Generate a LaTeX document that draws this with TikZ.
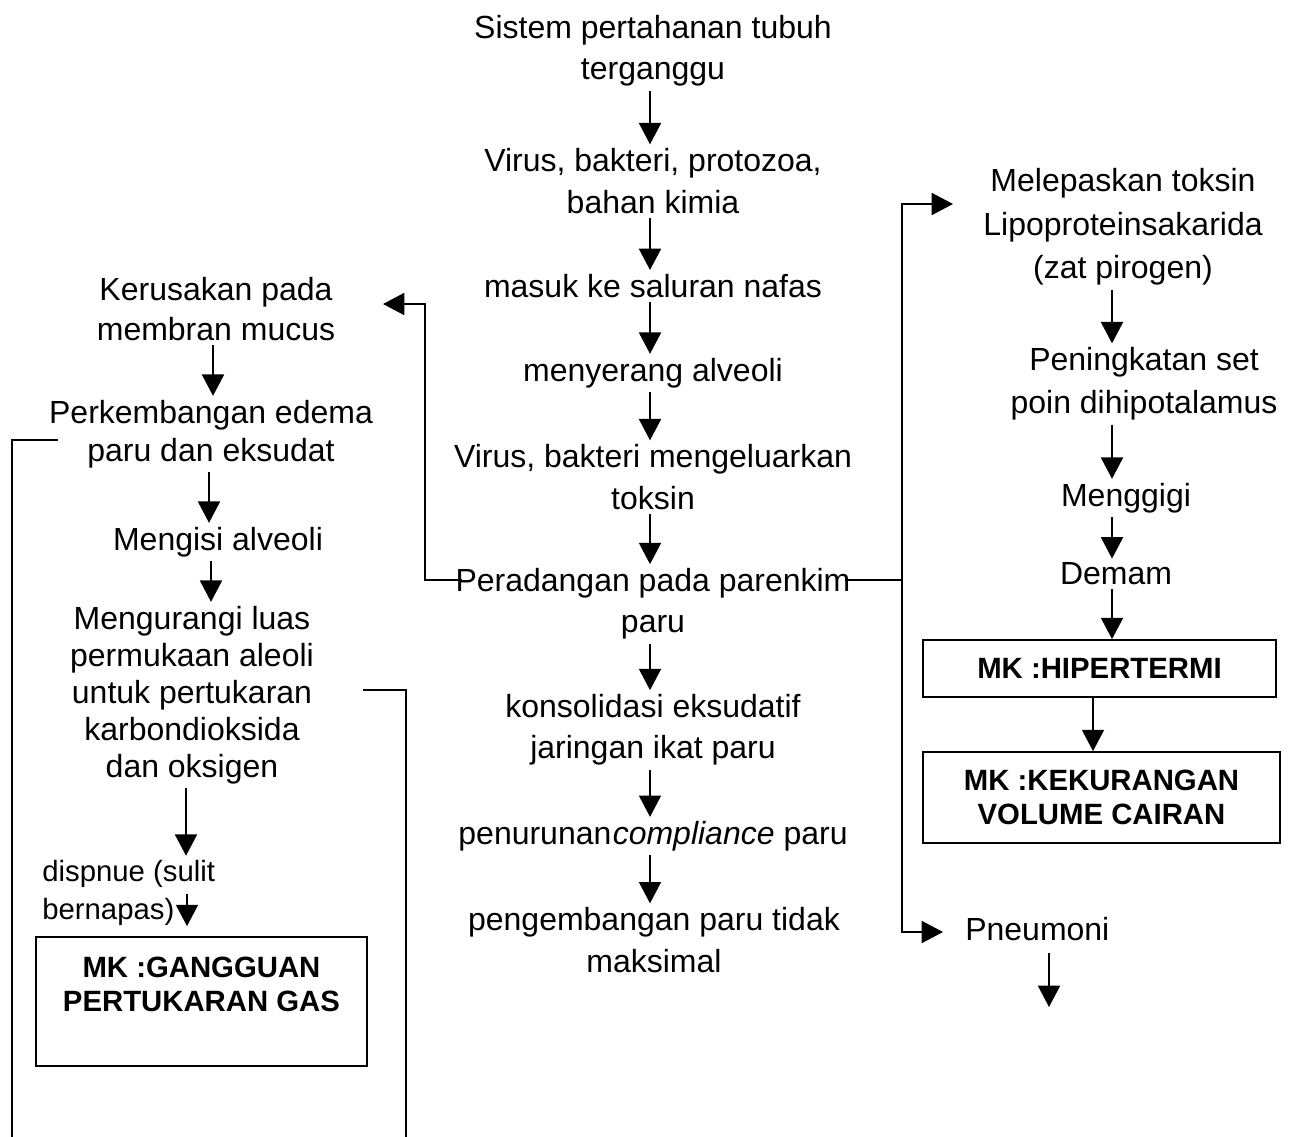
\documentclass[tikz,border=0pt]{standalone}
\usepackage{fontspec}
\setmainfont{Liberation Sans}
\usetikzlibrary{arrows.meta}
\begin{document}
\begin{tikzpicture}[x=0.75pt,y=-0.75pt,
  txt/.style={align=center,inner xsep=2pt,inner ysep=3pt,font=\fontsize{24}{31}\selectfont},
  mkbox/.style={draw,line width=1.3pt,align=center,inner sep=0pt,font=\fontsize{22}{26}\selectfont\bfseries},
  conn/.style={line width=1.4pt},
  arr/.style={conn,-{Triangle[length=16pt,width=16.5pt]}}]
\useasboundingbox (0,0) rectangle (1295,1136);

% axes for arrows
\coordinate (axC) at (650,0);
\coordinate (axL1) at (213,0);
\coordinate (axL2) at (209,0);
\coordinate (axL3) at (211,0);
\coordinate (axL4) at (186,0);
\coordinate (axR) at (1112,0);
\coordinate (axR2) at (1093,0);

% centre column
\node[txt] (c1) at (653,51) {Sistem pertahanan tubuh\\terganggu};
\node[txt] (c2) at (653,181) {Virus, bakteri, protozoa,\\bahan kimia};
\node[txt] (c3) at (653,286) {masuk ke saluran nafas};
\node[txt] (c4) at (653,373) {menyerang alveoli};
\node[txt] (c5) at (653,477) {Virus, bakteri mengeluarkan\\toksin};
\node[txt] (c6) at (653,604) {Peradangan pada parenkim\\paru};
\node[txt] (c7) at (653,730) {konsolidasi eksudatif\\jaringan ikat paru};
\node[txt] (c8) at (653,836) {penurunan\hspace{1pt}\textit{compliance} paru};
\node[txt] (c9) at (654,940) {pengembangan paru tidak\\maksimal};

% left column
\node[txt,font=\fontsize{24}{30}\selectfont] (l1) at (216,309) {Kerusakan pada\\membran mucus};
\node[txt,font=\fontsize{24}{28.5}\selectfont] (l2) at (211,434) {Perkembangan edema\\paru dan eksudat};
\node[txt] (l3) at (218,542) {Mengisi alveoli};
\node[txt,font=\fontsize{24}{27.75}\selectfont] (l4) at (192,695) {Mengurangi luas\\permukaan aleoli\\untuk pertukaran\\karbondioksida\\dan oksigen};
\node[txt,align=left,anchor=west,inner xsep=0pt,font=\fontsize{22}{29}\selectfont] (l5) at (42,893) {dispnue (sulit\\bernapas)};
\node[mkbox,minimum width=248.25pt,minimum height=96.75pt] (l6) at (201.5,1001.5) {MK :GANGGUAN\\PERTUKARAN GAS\\\mbox{}};

% right column
\node[txt,font=\fontsize{24}{32.5}\selectfont] (r1) at (1123,227) {Melepaskan toksin\\Lipoproteinsakarida\\(zat pirogen)};
\node[txt,font=\fontsize{24}{32.25}\selectfont] (r2) at (1144,384) {Peningkatan set\\poin dihipotalamus};
\node[txt] (r3) at (1126,498) {Menggigi};
\node[txt] (r4) at (1116,574) {Demam};
\node[mkbox,minimum width=264.75pt,minimum height=42.75pt] (r5) at (1099.5,668.5) {MK :HIPERTERMI};
\node[mkbox,minimum width=267.75pt,minimum height=68.25pt] (r6) at (1101.5,797.5) {MK :KEKURANGAN\\VOLUME CAIRAN};
\node[txt,anchor=west,inner xsep=0pt] (r7) at (965,929) {Pneumoni};

% free ends
\coordinate (pL) at (462,580);
\coordinate (tipL) at (383,304);
\coordinate (pR) at (845,580);
\coordinate (tipT) at (953,204);
\coordinate (tipB) at (943,932);
\coordinate (dsStart) at (187,894);
\coordinate (pnEnd) at (1049,1007);
\coordinate (pePerk) at (58,440);
\coordinate (peMeng) at (363,690);

% centre arrows
\foreach \a/\b in {c1/c2,c2/c3,c3/c4,c4/c5,c5/c6,c6/c7,c7/c8,c8/c9}
  \draw[arr] (\a.south -| axC) -- (\b.north -| axC);

% left arrows
\draw[arr] (l1.south -| axL1) -- (l2.north -| axL1);
\draw[arr] (l2.south -| axL2) -- (l3.north -| axL2);
\draw[arr] (l3.south -| axL3) -- (l4.north -| axL3);
\draw[arr] (l4.south -| axL4) -- (l5.north -| axL4);
\draw[arr,shorten >=7.5pt] (dsStart) -- (l6.north -| dsStart);

% right arrows
\draw[arr] (r1.south -| axR) -- (r2.north -| axR);
\draw[arr] (r2.south -| axR) -- (r3.north -| axR);
\draw[arr] (r3.south -| axR) -- (r4.north -| axR);
\draw[arr] (r4.south -| axR) -- (r5.north -| axR);
\draw[arr] (r5.south -| axR2) -- (r6.north -| axR2);
\draw[arr] (r7.south -| pnEnd) ++(0,8) -- (pnEnd);

% branches from Peradangan
\draw[arr] (pL) -- (425,580) -- (425,304) -- (tipL);
\draw[conn] (pR) -- (902,580);
\draw[arr] (902,580) |- (tipT);
\draw[arr] (902,580) |- (tipB);

% open lines at the bottom left
\draw[conn] (pePerk) -- (12,440) -- (12,1140);
\draw[conn] (peMeng) -- (406,690) -- (406,1140);
\end{tikzpicture}
\end{document}
